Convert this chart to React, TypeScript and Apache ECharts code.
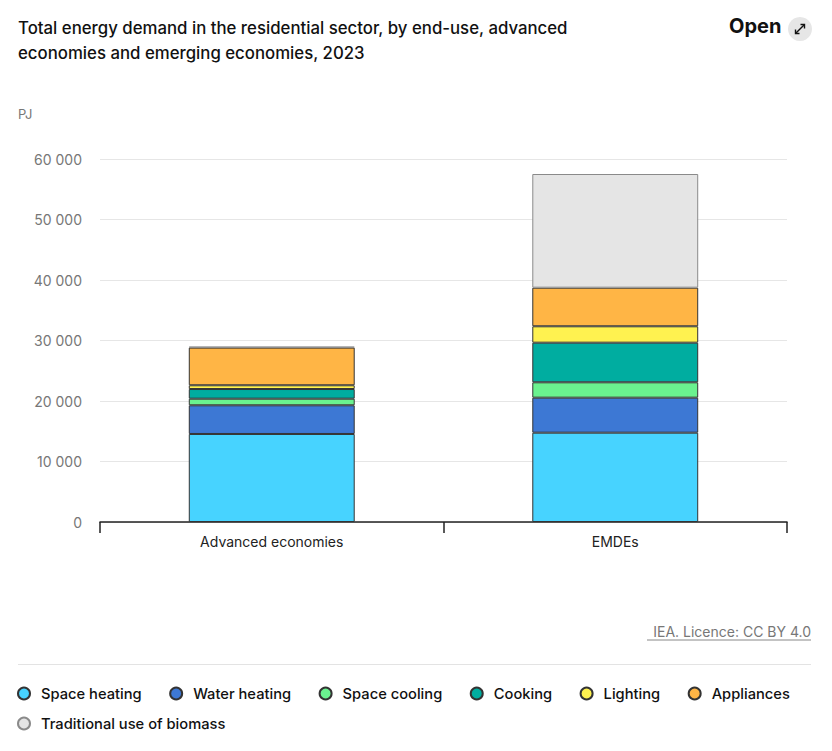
import React, { useEffect, useRef } from "react";
import * as echarts from "echarts";

const categories = ["Advanced economies", "EMDEs"];
const seriesNames = [
  "Space heating",
  "Water heating",
  "Space cooling",
  "Cooking",
  "Lighting",
  "Appliances",
  "Traditional use of biomass",
];
const spaceHeating = [14550, 14760];
const waterHeating = [4740, 5790];
const spaceCooling = [1090, 2540];
const cooking = [1600, 6550];
const lighting = [620, 2710];
const appliances = [6230, 6380];
const biomass = [150, 18790];
const seriesValues = [spaceHeating, waterHeating, spaceCooling, cooking, lighting, appliances, biomass];
const colors = ["#47D3FF", "#3D78D4", "#6AF28F", "#00ADA0", "#FFF250", "#FFB545", "#E5E5E5"];
const yTicks = { min: 0, max: 60000, interval: 10000 };

const FONT = "Inter, 'Noto Sans', sans-serif";

function fmt(v: number) {
  return String(v).replace(/\B(?=(\d{3})+(?!\d))/g, " ");
}

export default function App() {
  const ref = useRef<HTMLDivElement>(null);
  useEffect(() => {
    document.body.style.margin = "0";
    if (!ref.current) return;
    const chart = echarts.init(ref.current, undefined, { renderer: "svg" });
    const legendBase = {
      left: 17,
      padding: 0,
      itemWidth: 12,
      itemHeight: 12,
      itemGap: 27.5,
      icon: "circle",
      textStyle: { fontFamily: FONT, fontSize: 14.7, fontWeight: 500, color: "#111", padding: [0, 0, 0, 6] },
      selectedMode: false,
    };
    chart.setOption({
      animation: false,
      backgroundColor: "#fff",
      textStyle: { fontFamily: FONT },
      title: {
        text: "Total energy demand in the residential sector, by end-use, advanced\neconomies and emerging economies, 2023",
        left: 18,
        top: 15,
        padding: 0,
        textStyle: { fontFamily: FONT, fontSize: 16.8, fontWeight: 500, color: "#111", lineHeight: 25 },
      },
      grid: { left: 100, right: 45, top: 159, bottom: 229 },
      legend: [
        { ...legendBase, top: 686, data: seriesNames.slice(0, 6) },
        { ...legendBase, top: 716, data: seriesNames.slice(6) },
      ],
      xAxis: {
        type: "category",
        data: categories,
        axisLine: { lineStyle: { color: "#222", width: 1.5 } },
        axisTick: { show: true, length: 11, lineStyle: { color: "#222", width: 1.5 } },
        axisLabel: { color: "#222", fontSize: 14, margin: 12, fontFamily: FONT },
      },
      yAxis: {
        type: "value",
        min: yTicks.min,
        max: yTicks.max,
        interval: yTicks.interval,
        axisLine: { show: false },
        axisTick: { show: false },
        axisLabel: { color: "#777", fontSize: 14, margin: 18, fontFamily: FONT, formatter: (v: number) => fmt(v) },
        splitLine: { lineStyle: { color: "#e6e6e6", width: 1 } },
      },
      series: seriesNames.map((name, i) => ({
        name,
        type: "bar",
        stack: "total",
        barWidth: "48.3%",
        data: seriesValues[i],
        itemStyle: {
          color: colors[i],
          borderColor: i === 6 ? "#8a8a8a" : "#333",
          borderWidth: 1,
        },
      })),
      graphic: [
        { type: "text", left: 729, top: 16, style: { text: "Open", fontFamily: FONT, fontSize: 20, fontWeight: 700, fill: "#111" } },
        { type: "circle", shape: { cx: 800, cy: 29, r: 12 }, style: { fill: "#e6e6e6" } },
        { type: "line", shape: { x1: 795.5, y1: 33.5, x2: 804.5, y2: 24.5 }, style: { stroke: "#111", lineWidth: 1.4 } },
        { type: "polyline", shape: { points: [[800.5, 24.5], [804.5, 24.5], [804.5, 28.5]] }, style: { stroke: "#111", lineWidth: 1.4, fill: "none" } },
        { type: "polyline", shape: { points: [[795.5, 29.5], [795.5, 33.5], [799.5, 33.5]] }, style: { stroke: "#111", lineWidth: 1.4, fill: "none" } },
        { type: "text", left: 18, top: 107, style: { text: "PJ", fontFamily: FONT, fontSize: 13, fill: "#777" } },
        { type: "text", right: 21, top: 624, style: { text: "IEA. Licence: CC BY 4.0", fontFamily: FONT, fontSize: 14, fill: "#777" } },
        { type: "line", shape: { x1: 647, y1: 640, x2: 811, y2: 640 }, style: { stroke: "#888", lineWidth: 1 } },
        { type: "line", shape: { x1: 18, y1: 664.5, x2: 811, y2: 664.5 }, style: { stroke: "#e3e3e3", lineWidth: 1 } },
      ],
    });
    return () => chart.dispose();
  }, []);
  return <div ref={ref} style={{ width: 832, height: 751 }} />;
}
